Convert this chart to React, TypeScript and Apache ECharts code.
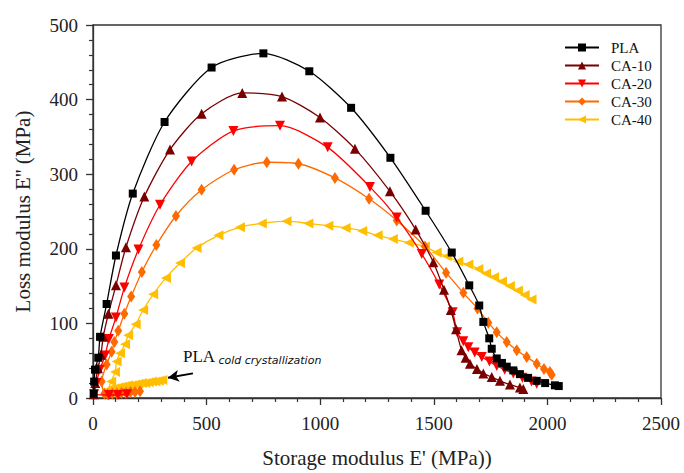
import React, { useEffect, useRef } from "react";
import * as echarts from "echarts";

const seriesNames = ["PLA", "CA-10", "CA-20", "CA-30", "CA-40"];
const seriesColors = ["#000000", "#7a0000", "#ff0000", "#ff6a00", "#ffbf00"];

const plaData = [
  [3, 6], [5, 22], [9, 38], [23, 54], [31, 82], [60, 126], [101, 191], [175, 274], [315, 370],
  [522, 443], [750, 462], [952, 438], [1136, 389], [1309, 322], [1464, 251], [1579, 195],
  [1656, 151], [1700, 124], [1718, 102], [1744, 80], [1755, 66], [1777, 53], [1800, 47],
  [1821, 42], [1850, 37], [1879, 32], [1915, 27], [1953, 23], [1990, 20], [2033, 17], [2050, 16],
];

const ca10Data = [
  [3, 5], [10, 20], [22, 40], [35, 58], [45, 82], [68, 113], [101, 151], [145, 202], [226, 270],
  [339, 333], [478, 381], [657, 409], [832, 404], [999, 376], [1153, 334], [1307, 277],
  [1420, 226], [1498, 182], [1545, 145], [1575, 118], [1598, 92], [1622, 64], [1640, 54],
  [1659, 46], [1690, 39], [1718, 33], [1755, 28], [1791, 23], [1835, 18], [1879, 14], [1894, 12],
];

const ca20Data = [
  [150, 5], [110, 4], [70, 4], [5, 5], [15, 20], [30, 38], [53, 57], [70, 79], [101, 108],
  [138, 148], [200, 199], [295, 259], [434, 317], [618, 358], [823, 365], [1033, 336],
  [1219, 283], [1337, 242], [1447, 193], [1524, 152], [1583, 115], [1603, 88], [1630, 76],
  [1652, 68], [1680, 61], [1711, 55], [1745, 49], [1777, 43], [1812, 38], [1850, 33],
  [1890, 27], [1930, 22], [1953, 19],
];

const ca30Data = [
  [207, 9], [185, 8], [165, 8], [145, 7], [125, 7], [105, 6], [85, 6], [65, 5], [50, 6],
  [38, 22], [60, 45], [82, 62], [94, 75], [111, 90], [138, 113], [168, 136], [215, 169],
  [279, 205], [365, 244], [478, 279], [621, 306], [765, 316], [904, 314], [1065, 295],
  [1215, 267], [1337, 238], [1461, 203], [1554, 168], [1630, 141], [1692, 120], [1740, 101],
  [1777, 88], [1821, 75], [1865, 64], [1909, 55], [1953, 46], [1985, 39], [2011, 35], [2019, 31],
];

const ca40Data = [
  [305, 24], [290, 23], [275, 22], [260, 22], [245, 21], [230, 20], [215, 20], [200, 19],
  [185, 18], [170, 17], [155, 17], [140, 16], [125, 15], [110, 14], [95, 13], [80, 12], [67, 11],
  [80, 22], [97, 35], [104, 49], [119, 60], [141, 72], [155, 84], [188, 99], [221, 118],
  [265, 139], [321, 161], [383, 181], [456, 201], [552, 218], [647, 229], [743, 234],
  [852, 237], [948, 234], [1036, 231], [1112, 228], [1185, 224], [1253, 218], [1320, 213],
  [1390, 208], [1461, 203], [1513, 195], [1557, 190], [1608, 183], [1652, 179], [1696, 173],
  [1730, 167], [1765, 162], [1800, 156], [1835, 150], [1870, 144], [1900, 138], [1930, 132],
];

const xTicks = { min: 0, max: 2500, interval: 500 };
const yTicks = { min: 0, max: 500, interval: 100 };
const arrowFrom = [440, 33];
const arrowTo = [330, 27];

const allData = [plaData, ca10Data, ca20Data, ca30Data, ca40Data];
const symbols = ["rect", "triangle", "triangle", "diamond", "triangle"];
const symbolRotates = [0, 0, 180, 0, 90];
const symbolSizes: any[] = [8, 10, 10, [8, 12], 10];

export default function App() {
  const ref = useRef<HTMLDivElement>(null);
  useEffect(() => {
    if (!ref.current) return;
    const chart = echarts.init(ref.current, null, { renderer: "svg" });
    const serif = "Liberation Serif";
    const axisColor = "#333";
    const series: any[] = seriesNames.map((name, i) => ({
      name,
      type: "line",
      data: allData[i],
      smooth: 0.25,
      symbol: symbols[i],
      symbolRotate: symbolRotates[i],
      symbolSize: symbolSizes[i],
      showAllSymbol: true,
      lineStyle: { color: seriesColors[i], width: 1.3 },
      itemStyle: { color: seriesColors[i] },
      z: 10 - i,
    }));
    series.push({
      type: "line",
      data: [],
      silent: true,
      markLine: {
        silent: true,
        symbol: ["none", "arrow"],
        symbolSize: [9, 11],
        label: { show: false },
        lineStyle: { color: "#000", width: 2, type: "solid" },
        data: [[{ coord: arrowFrom }, { coord: arrowTo }]],
      },
    });
    chart.setOption({
      animation: false,
      backgroundColor: "#fff",
      grid: {
        left: 93,
        right: 23,
        top: 25,
        bottom: 69,
        show: true,
        borderColor: axisColor,
        borderWidth: 1.3,
      },
      legend: {
        orient: "vertical",
        left: 559,
        top: 35,
        itemWidth: 34,
        itemHeight: 10,
        itemGap: 3,
        data: seriesNames,
        textStyle: {
          fontFamily: serif,
          fontSize: 15,
          lineHeight: 15,
          color: "#111",
          padding: [0, 0, 0, 7],
        },
      },
      xAxis: {
        type: "value",
        min: xTicks.min,
        max: xTicks.max,
        interval: xTicks.interval,
        name: "Storage modulus E' (MPa))",
        nameLocation: "middle",
        nameGap: 49,
        nameTextStyle: { fontFamily: serif, fontSize: 21, color: "#222" },
        axisLine: { lineStyle: { color: axisColor, width: 1.3 } },
        axisTick: { inside: false, length: 7, lineStyle: { color: axisColor, width: 1.3 } },
        minorTick: { show: true, splitNumber: 5, length: 4, lineStyle: { color: axisColor, width: 1.2 } },
        axisLabel: {
          fontFamily: serif,
          fontSize: 19,
          color: "#222",
          margin: 16,
          formatter: (v: number) => String(v),
        },
        splitLine: { show: false },
      },
      yAxis: {
        type: "value",
        min: yTicks.min,
        max: yTicks.max,
        interval: yTicks.interval,
        name: "Loss modulus E'' (MPa)",
        nameLocation: "middle",
        nameGap: 60,
        nameTextStyle: { fontFamily: serif, fontSize: 21, color: "#222" },
        axisLine: { lineStyle: { color: axisColor, width: 1.3 } },
        axisTick: { inside: false, length: 7, lineStyle: { color: axisColor, width: 1.3 } },
        minorTick: { show: true, splitNumber: 5, length: 4, lineStyle: { color: axisColor, width: 1.2 } },
        axisLabel: {
          fontFamily: serif,
          fontSize: 19,
          color: "#222",
          margin: 15,
          formatter: (v: number) => String(v),
        },
        splitLine: { show: false },
      },
      graphic: [
        {
          type: "text",
          left: 183,
          top: 348,
          style: {
            text: "{a|PLA} {b|cold crystallization}",
            rich: {
              a: { fontFamily: serif, fontSize: 17, fill: "#111" },
              b: {
                fontFamily: "DejaVu Sans",
                fontStyle: "italic",
                fontSize: 11,
                fill: "#111",
                padding: [8, 0, 0, 0],
              },
            },
          },
        },
      ],
      series,
    });
    return () => chart.dispose();
  }, []);
  return (
    <div
      ref={ref}
      style={{ position: "fixed", left: 0, top: 0, width: 684, height: 473 }}
    />
  );
}
